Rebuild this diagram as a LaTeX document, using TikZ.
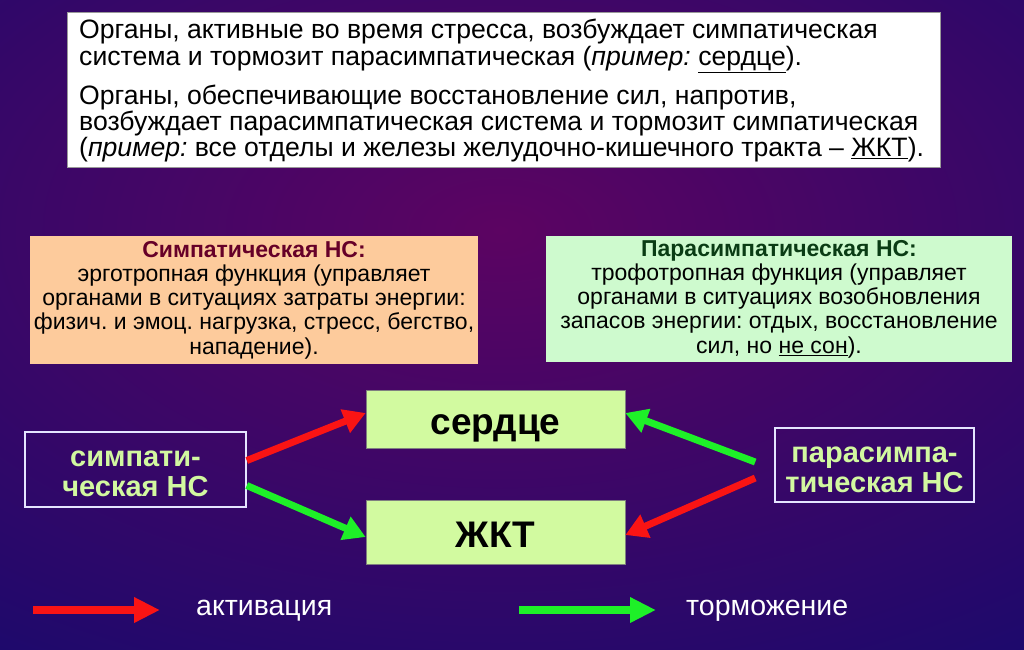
\documentclass[tikz,border=0pt]{standalone}
\usepackage{fontspec}
\setmainfont{Liberation Sans}
\usetikzlibrary{arrows.meta,positioning}
\frenchspacing

\definecolor{bgnavy}{RGB}{16,10,110}
\definecolor{bgpurple}{RGB}{92,4,98}
\definecolor{peach}{RGB}{253,203,156}
\definecolor{mint}{RGB}{206,250,206}
\definecolor{organfill}{RGB}{210,250,160}
\definecolor{nstext}{RGB}{210,248,160}
\definecolor{titlered}{RGB}{102,0,40}
\definecolor{titlegreen}{RGB}{10,60,20}
\definecolor{actred}{RGB}{250,20,20}
\definecolor{inhgreen}{RGB}{30,240,40}

\begin{document}
\begin{tikzpicture}[
  x=1pt, y=-1pt,
  introbox/.style={draw=black!40, fill=white, line width=0.8pt,
    minimum width=873, minimum height=155},
  introtext/.style={align=left, inner sep=0pt, anchor=north west,
    font=\fontsize{26.6}{26.4}\selectfont},
  infobox/.style={align=center, inner sep=0pt,
    font=\fontsize{23}{24.3}\selectfont},
  organ/.style={draw=black!50, fill=organfill, line width=0.6pt,
    minimum width=259, text height=31pt, text depth=0pt,
    font=\fontsize{37}{40}\selectfont\bfseries},
  nsbox/.style={draw=white!90!blue, line width=1.6pt, align=center,
    text=nstext, text height=58pt, text depth=4pt,
    font=\fontsize{29}{30}\selectfont\bfseries},
  actarrow/.style={actred, line width=7pt, -{Triangle[length=22pt, width=24pt]}},
  inharrow/.style={inhgreen, line width=7pt, -{Triangle[length=22pt, width=24pt]}},
  legend/.style={text=white, anchor=west, inner sep=0pt,
    font=\fontsize{28.5}{30}\selectfont}
]
\useasboundingbox (0,0) rectangle (1024,649);
% background
\fill[bgnavy] (0,0) rectangle (1024,649);
\begin{scope}
  \clip (0,0) rectangle (1024,649);
  \shade[inner color=bgpurple, outer color=bgnavy] (500,230) ellipse [x radius=1100pt, y radius=620pt];
\end{scope}

% explanation on top
\node[introbox] (intro) at (503.5,89.5) {};
\node[introtext] (introtxt) at (79,19) {%
Органы, активные во время стресса, возбуждает симпатическая\\
система и тормозит парасимпатическая (\textit{пример:} \underline{сердце}).\\[11pt]
Органы, обеспечивающие восстановление сил, напротив,\\
возбуждает парасимпатическая система и тормозит симпатическая\\
(\textit{пример:} все отделы и железы желудочно-кишечного тракта – \underline{ЖКТ}).};

% the two functions
\node[infobox, fill=peach, minimum width=448, minimum height=128] (ergo) at (254,300)
  {\textbf{\color{titlered}Симпатическая НС:}\\
   эрготропная функция (управляет\\
   органами в ситуациях затраты энергии:\\
   физич. и эмоц. нагрузка, стресс, бегство,\\
   нападение).};
\node[infobox, fill=mint, minimum width=466, minimum height=126] (tropho) at (779,299)
  {\textbf{\color{titlegreen}Парасимпатическая НС:}\\
   трофотропная функция (управляет\\
   органами в ситуациях возобновления\\
   запасов энергии: отдых, восстановление\\
   сил, но \underline{не сон}).};

% organs and systems
\node[organ, minimum height=58] (heart) at (495.5,419) {сердце};
\node[organ, minimum height=64] (gut) at (495.5,532) {ЖКТ};
\node[nsbox, minimum width=221, minimum height=75] (symp) at (135.5,469.5) {симпати-\\ческая НС};
\node[nsbox, minimum width=199, minimum height=74] (para) at (874.5,465) {парасимпа-\\тическая НС};

\draw[actarrow] ([yshift=9pt]symp.east) -- ([yshift=6pt]heart.west);
\draw[inharrow] ([yshift=-16pt]symp.east) -- ([yshift=-5pt]gut.west);
\draw[inharrow] ([xshift=-19pt, yshift=3pt]para.west) -- ([yshift=6pt]heart.east);
\draw[actarrow] ([xshift=-19pt, yshift=-13pt]para.west) -- ([yshift=-3pt]gut.east);

% legend
\coordinate (actfrom) at (33,610);
\coordinate (actto) at (160,610);
\coordinate (inhfrom) at (519,610);
\coordinate (inhto) at (656,610);
\draw[actarrow, line width=8pt, -{Triangle[length=26pt, width=24pt]}] (actfrom) -- (actto);
\draw[inharrow, line width=8pt, -{Triangle[length=26pt, width=24pt]}] (inhfrom) -- (inhto);
\node[legend] (act) at (196,611) {активация};
\node[legend] (inh) at (686,611) {торможение};
\end{tikzpicture}
\end{document}
